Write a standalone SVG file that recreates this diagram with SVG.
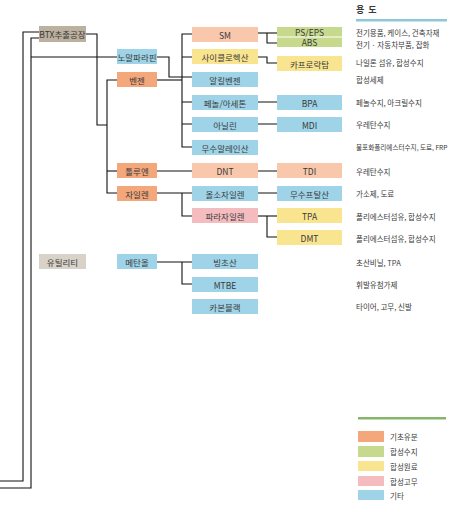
<svg xmlns="http://www.w3.org/2000/svg" width="459" height="511" viewBox="0 0 459 511">
<style>
.t{font-family:"Noto Sans CJK KR","Noto Sans",sans-serif;font-size:8.5px;fill:#3a3a3a;text-anchor:middle;dominant-baseline:central}
.u{font-family:"Noto Sans CJK KR","Noto Sans",sans-serif;font-size:7.5px;fill:#3a3a3a;dominant-baseline:central}
.l{fill:none;stroke:#111;stroke-width:1.1}
.gr{fill:#bcb09f}.gl{fill:#d8d2c8}
.or{fill:#f3a77a}.pe{fill:#f9c8ac}
.gn{fill:#c6d98c}.ye{fill:#f9e590}
.pk{fill:#f5bcc0}.bl{fill:#9fd4e8}
</style>
<rect width="459" height="511" fill="#fff"/>
<g id="connectors" class="l">
<path d="M39,32H23V481H0"/>
<path d="M39,38H31V488H0"/>
<path d="M31,57H117"/>
<path d="M86,34H97V125H107"/>
<path d="M117,80H107V193H117"/>
<path d="M107,171H117"/>
<path d="M157,57H169V77H192"/>
<path d="M157,80H182"/>
<path d="M192,34H182V147H192"/>
<path d="M182,57H192M182,102H192M182,124H192"/>
<path d="M258,33H277"/>
<path d="M267,33V43H277"/>
<path d="M258,57H267V63H277"/>
<path d="M258,102H277M258,124H277"/>
<path d="M157,171H192M258,171H277"/>
<path d="M157,193H192M258,193H277"/>
<path d="M182,193V216H192"/>
<path d="M258,216H277"/>
<path d="M267,216V237H277"/>
<path d="M157,262H192"/>
<path d="M182,262V284H192"/>
</g>
<g id="n-btx"><rect class="gr" x="39" y="26" width="47" height="16"/><text class="t" x="62.5" y="34">BTX추출공장</text></g>
<g id="n-util"><rect class="gl" x="39" y="254" width="47" height="15"/><text class="t" x="62.5" y="261.5">유틸리티</text></g>
<g id="n-np"><rect class="bl" x="117" y="49" width="40" height="15"/><text class="t" x="137" y="56.5">노말파라핀</text></g>
<g id="n-bz"><rect class="or" x="117" y="72" width="40" height="15"/><text class="t" x="137" y="79.5">벤젠</text></g>
<g id="n-tol"><rect class="or" x="117" y="163" width="40" height="15"/><text class="t" x="137" y="170.5">톨루엔</text></g>
<g id="n-xy"><rect class="or" x="117" y="186" width="40" height="15"/><text class="t" x="137" y="193.5">자일렌</text></g>
<g id="n-meoh"><rect class="bl" x="117" y="254" width="40" height="15"/><text class="t" x="137" y="261.5">메탄올</text></g>
<g id="n-sm"><rect class="pe" x="192" y="27" width="66" height="15"/><text class="t" x="225" y="34.5">SM</text></g>
<g id="n-ch"><rect class="ye" x="192" y="49" width="66" height="15"/><text class="t" x="225" y="56.5">사이클로헥산</text></g>
<g id="n-ab"><rect class="bl" x="192" y="72" width="66" height="15"/><text class="t" x="225" y="79.5">알킬벤젠</text></g>
<g id="n-ph"><rect class="bl" x="192" y="95" width="66" height="15"/><text class="t" x="225" y="102.5">페놀/아세톤</text></g>
<g id="n-an"><rect class="bl" x="192" y="117" width="66" height="15"/><text class="t" x="225" y="124.5">아닐린</text></g>
<g id="n-ma"><rect class="bl" x="192" y="140" width="66" height="15"/><text class="t" x="225" y="147.5">무수말레인산</text></g>
<g id="n-dnt"><rect class="pe" x="192" y="163" width="66" height="15"/><text class="t" x="225" y="170.5">DNT</text></g>
<g id="n-ox"><rect class="bl" x="192" y="186" width="66" height="15"/><text class="t" x="225" y="193.5">올소자일렌</text></g>
<g id="n-px"><rect class="pk" x="192" y="208" width="66" height="15"/><text class="t" x="225" y="215.5">파라자일렌</text></g>
<g id="n-aa"><rect class="bl" x="192" y="254" width="66" height="15"/><text class="t" x="225" y="261.5">빙초산</text></g>
<g id="n-mtbe"><rect class="bl" x="192" y="277" width="66" height="15"/><text class="t" x="225" y="284.5">MTBE</text></g>
<g id="n-cb"><rect class="bl" x="192" y="299" width="66" height="15"/><text class="t" x="225" y="306.5">카본블랙</text></g>
<g id="n-ps"><rect class="gn" x="277" y="27" width="65" height="9.5"/><text class="t" x="309.5" y="31.8">PS/EPS</text></g>
<g id="n-abs"><rect class="gn" x="277" y="37.5" width="65" height="9.5"/><text class="t" x="309.5" y="42.3">ABS</text></g>
<g id="n-cl"><rect class="ye" x="277" y="56" width="65" height="15"/><text class="t" x="309.5" y="63.5">카프로락탐</text></g>
<g id="n-bpa"><rect class="bl" x="277" y="95" width="65" height="15"/><text class="t" x="309.5" y="102.5">BPA</text></g>
<g id="n-mdi"><rect class="bl" x="277" y="117" width="65" height="15"/><text class="t" x="309.5" y="124.5">MDI</text></g>
<g id="n-tdi"><rect class="pe" x="277" y="163" width="65" height="15"/><text class="t" x="309.5" y="170.5">TDI</text></g>
<g id="n-pa"><rect class="bl" x="277" y="186" width="65" height="15"/><text class="t" x="309.5" y="193.5">무수프탈산</text></g>
<g id="n-tpa"><rect class="ye" x="277" y="208" width="65" height="15"/><text class="t" x="309.5" y="215.5">TPA</text></g>
<g id="n-dmt"><rect class="ye" x="277" y="230" width="65" height="15"/><text class="t" x="309.5" y="237.5">DMT</text></g>
<g id="uses">
<text class="u" x="356" y="9" style="font-weight:bold;font-size:9px" xml:space="preserve">용  도</text>
<rect x="356" y="19" width="91" height="2.5" fill="#8ec8d8"/>
<text class="u" x="356" y="32">전기용품, 케이스, 건축자재</text>
<text class="u" x="356" y="44">전기 · 자동차부품, 잡화</text>
<text class="u" x="356" y="62">나일론 섬유, 합성수지</text>
<text class="u" x="356" y="79">합성세제</text>
<text class="u" x="356" y="102">페놀수지, 아크릴수지</text>
<text class="u" x="356" y="124">우레탄수지</text>
<text class="u" x="356" y="147" style="font-size:6.6px">불포화폴리에스터수지, 도료, FRP</text>
<text class="u" x="356" y="171">우레탄수지</text>
<text class="u" x="356" y="193">가소제, 도료</text>
<text class="u" x="356" y="216">폴리에스터섬유, 합성수지</text>
<text class="u" x="356" y="238">폴리에스터섬유, 합성수지</text>
<text class="u" x="356" y="262">초산비닐, TPA</text>
<text class="u" x="356" y="284">휘발유첨가제</text>
<text class="u" x="356" y="306">타이어, 고무, 신발</text>
</g>
<g id="legend">
<rect x="358" y="417" width="88" height="2.5" fill="#85b56b"/>
<rect class="or" x="358" y="431" width="26" height="11"/><text class="u" x="390" y="436.5">기초유분</text>
<rect class="gn" x="358" y="446" width="26" height="11"/><text class="u" x="390" y="451.5">합성수지</text>
<rect class="ye" x="358" y="461" width="26" height="10"/><text class="u" x="390" y="466">합성원료</text>
<rect class="pk" x="358" y="476" width="26" height="10"/><text class="u" x="390" y="481">합성고무</text>
<rect class="bl" x="358" y="490" width="26" height="10"/><text class="u" x="390" y="495">기타</text>
</g>
</svg>
